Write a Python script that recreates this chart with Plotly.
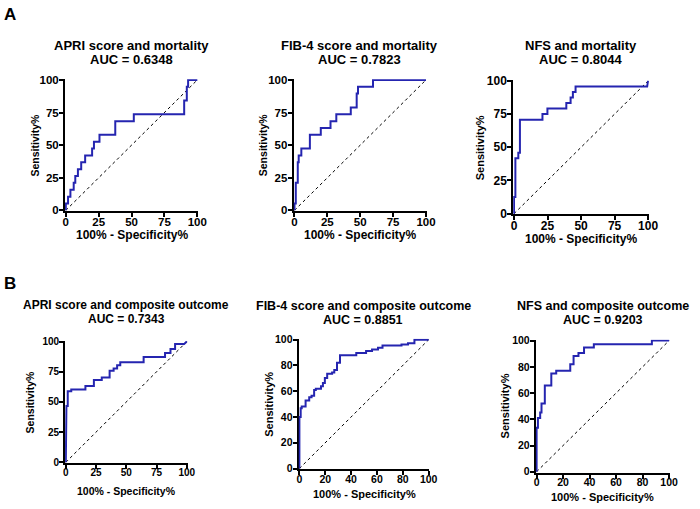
import plotly.graph_objects as go

# ---------------- data (ROC step vertices: 100% - specificity, sensitivity) ----------------
apri_mort_x = [0, 0, 1.7, 1.7, 3.5, 3.5, 6, 6, 7.2, 7.2, 9.2, 9.2, 11.7, 11.7, 14.7, 14.7, 20, 20,
               21.4, 21.4, 25.6, 25.6, 37.6, 37.6, 51.7, 51.7, 90, 90, 92, 92, 93, 93, 100]
apri_mort_y = [0, 5.3, 5.3, 10.5, 10.5, 15.8, 15.8, 21.1, 21.1, 26.3, 26.3, 31.6, 31.6, 36.8, 36.8, 42.1, 42.1, 47.4,
               47.4, 52.6, 52.6, 57.9, 57.9, 68.4, 68.4, 73.7, 73.7, 84.2, 84.2, 94.7, 94.7, 100, 100]

fib4_mort_x = [0, 0, 1, 1, 2.5, 2.5, 3.2, 3.2, 5.2, 5.2, 11.7, 11.7, 20, 20, 27.4, 27.4, 31.8, 31.8,
               42.8, 42.8, 47.3, 47.3, 48.3, 48.3, 59.7, 59.7, 100]
fib4_mort_y = [0, 5.3, 5.3, 21.1, 21.1, 36.8, 36.8, 42.1, 42.1, 47.4, 47.4, 57.9, 57.9, 63.2, 63.2, 68.4, 68.4, 73.7,
               73.7, 78.9, 78.9, 89.5, 89.5, 94.7, 94.7, 100, 100]

nfs_mort_x = [0, 0, 1, 1, 3.2, 3.2, 4.4, 4.4, 21.2, 21.2, 24.9, 24.9, 39, 39, 42.2, 42.2, 43.9, 43.9,
              45.9, 45.9, 99.3, 100]
nfs_mort_y = [0, 12.5, 12.5, 41.7, 41.7, 45.8, 45.8, 70.8, 70.8, 75, 75, 79.2, 79.2, 83.3, 83.3, 87.5, 87.5, 91.7,
              91.7, 95.8, 95.8, 100]

apri_comp_x = [0, 0, 0.5, 0.5, 1.6, 1.6, 4.5, 4.5, 16.2, 16.2, 23.2, 23.2, 29.7, 29.7, 36.2, 36.2, 39.5, 39.5,
               42.4, 42.4, 45, 45, 64.3, 64.3, 82, 82, 86.5, 86.5, 90.3, 90.3, 97.8, 100]
apri_comp_y = [0, 27.8, 27.8, 46.6, 46.6, 58.8, 58.8, 60.3, 60.3, 63.3, 63.3, 68.2, 68.2, 70.2, 70.2, 75.8, 75.8, 77.8,
               77.8, 80.3, 80.3, 82.8, 82.8, 87.3, 87.3, 90.6, 90.6, 93.8, 93.8, 98, 98, 100]

fib4_comp_x = [0, 0, 1, 1, 1.8, 1.8, 4.8, 4.8, 7.6, 7.6, 9.4, 9.4, 11.4, 11.4, 12.7, 12.7, 16.7, 16.7,
               18.2, 18.2, 19.7, 19.7, 21.5, 21.5, 25.3, 25.3, 27, 27, 29.1, 29.1, 31.4, 31.4, 44, 44,
               51.6, 51.6, 56.2, 56.2, 60.8, 60.8, 64.3, 64.3, 79, 79, 84, 84, 89, 89, 100]
fib4_comp_y = [0, 40, 40, 46.7, 46.7, 48.2, 48.2, 52.8, 52.8, 55.3, 55.3, 56.5, 56.5, 60.9, 60.9, 61.9, 61.9, 63.9,
               63.9, 66.4, 66.4, 70.2, 70.2, 73.5, 73.5, 74.5, 74.5, 76.5, 76.5, 82, 82, 87.9, 87.9, 89.6,
               89.6, 91.2, 91.2, 92.4, 92.4, 93.7, 93.7, 95.5, 95.5, 96.2, 96.2, 97.2, 97.2, 100, 100]

nfs_comp_x = [0, 0, 1, 1, 2.7, 2.7, 3.7, 3.7, 6.2, 6.2, 11.1, 11.1, 14.8, 14.8, 25.4, 25.4, 27.9, 27.9,
              31.6, 31.6, 35.8, 35.8, 43.2, 43.2, 87, 87, 100]
nfs_comp_y = [0, 33.5, 33.5, 41, 41, 45.2, 45.2, 52, 52, 65.8, 65.8, 75, 75, 77, 77, 81.9, 81.9, 88.3,
              88.3, 90.6, 90.6, 94.8, 94.8, 97.3, 97.3, 100, 100]

titles = ["APRI score and mortality", "FIB-4 score and mortality", "NFS and mortality",
          "APRI score and composite outcome", "FIB-4 score and composite outcome", "NFS and composite outcome"]
auc_values = ["0.6348", "0.7823", "0.8044", "0.7343", "0.8851", "0.9203"]
ref_line = [0, 100]
ticks_25 = [0, 25, 50, 75, 100]
ticks_20 = [0, 20, 40, 60, 80, 100]

curves = [(apri_mort_x, apri_mort_y), (fib4_mort_x, fib4_mort_y), (nfs_mort_x, nfs_mort_y),
          (apri_comp_x, apri_comp_y), (fib4_comp_x, fib4_comp_y), (nfs_comp_x, nfs_comp_y)]
tick_sets = [ticks_25, ticks_25, ticks_25, ticks_25, ticks_20, ticks_20]

# ---------------- layout geometry (pixels) ----------------
W, H = 700, 509
# (x at 0, x at 100, y at 100, y at 0)
boxes = [(64, 198, 75.7, 209.3), (297, 431, 75.7, 209.3), (520.7, 657.3, 76.7, 212.7),
         (64, 187.3, 343.7, 467.3), (302, 433.7, 341.7, 473.7), (543.7, 678.7, 342.7, 477)]
title_pos = [(131, 40.5, 54.5), (363, 40.5, 54.5), (588.5, 40.5, 54.5),
             (125.8, 306.5, 320.5), (367, 307, 321.5), (611, 307, 321.5)]
ytitle_x = [33, 265, 486, 27, 270.7, 511.7]
xtitle_y = [235, 235, 239, 497, 500, 503]
title_size = [13, 13, 13, 12, 12.5, 12.5]
tick_size = [11.5, 11.5, 12, 10, 10.5, 10.5]
xtitle_size = [12, 12, 12, 10.5, 11, 11]
ytitle_size = [10.5, 10.5, 11, 10.5, 11, 11]

PAD = 0.6
FONT = "Liberation Sans, Arial, sans-serif"
BLUE = "#2525b0"

fig = go.Figure()
annotations = []
layout = {}


def px(x):
    return x / W


def py(y):
    return 1 - y / H


for i, ((cx, cy), ticks) in enumerate(zip(curves, tick_sets)):
    n = "" if i == 0 else str(i + 1)
    x0, x1, ytop, ybot = boxes[i]
    ux = (x1 - x0) / 100.0
    uy = (ybot - ytop) / 100.0
    xd = [px(x0 - PAD * ux), px(x1 + PAD * ux)]
    yd = [py(ybot + PAD * uy), py(ytop - PAD * uy)]
    axis_common = dict(range=[-PAD, 100 + PAD], showline=True, linecolor="black", linewidth=2,
                       ticks="outside", ticklen=4, tickwidth=2, tickcolor="black",
                       showgrid=False, zeroline=False, layer="below traces",
                       tickfont=dict(family=FONT, size=tick_size[i], color="black", weight="bold"))
    layout["xaxis" + n] = dict(domain=xd, anchor="y" + n, tickvals=ticks, ticklabelstandoff=-5, **axis_common)
    layout["yaxis" + n] = dict(domain=yd, anchor="x" + n, tickvals=ticks, ticklabelstandoff=-2, **axis_common)

    fig.add_trace(go.Scatter(x=ref_line, y=ref_line, mode="lines", xaxis="x" + n, yaxis="y" + n,
                             line=dict(color="black", width=1, dash="dot"), showlegend=False,
                             hoverinfo="skip"))
    fig.add_trace(go.Scatter(x=cx, y=cy, mode="lines", xaxis="x" + n, yaxis="y" + n,
                             line=dict(color=BLUE, width=2), showlegend=False))

    tx, ty1, ty2 = title_pos[i]
    annotations.append(dict(text="<b>%s</b>" % titles[i], x=px(tx), y=py(ty1), xref="paper", yref="paper",
                            xanchor="center", yanchor="middle", showarrow=False,
                            font=dict(family=FONT, size=title_size[i], color="black")))
    annotations.append(dict(text="<b>AUC = %s</b>" % auc_values[i], x=px(tx), y=py(ty2), xref="paper",
                            yref="paper", xanchor="center", yanchor="middle", showarrow=False,
                            font=dict(family=FONT, size=title_size[i], color="black")))
    annotations.append(dict(text="<b>Sensitivity%</b>", x=px(ytitle_x[i]), y=py((ytop + ybot) / 2),
                            xref="paper", yref="paper", xanchor="center", yanchor="middle",
                            textangle=-90, showarrow=False,
                            font=dict(family=FONT, size=ytitle_size[i], color="black")))
    annotations.append(dict(text="<b>100% - Specificity%</b>", x=px((x0 + x1) / 2), y=py(xtitle_y[i]),
                            xref="paper", yref="paper", xanchor="center", yanchor="middle",
                            showarrow=False, font=dict(family=FONT, size=xtitle_size[i], color="black")))

annotations.append(dict(text="<b>A</b>", x=px(7), y=py(9), xref="paper", yref="paper", xanchor="center",
                        yanchor="middle", showarrow=False, font=dict(family=FONT, size=17, color="black")))
annotations.append(dict(text="<b>B</b>", x=px(7), y=py(284), xref="paper", yref="paper", xanchor="center",
                        yanchor="middle", showarrow=False, font=dict(family=FONT, size=17, color="black")))

fig.update_layout(width=W, height=H, margin=dict(l=0, r=0, t=0, b=0), plot_bgcolor="white",
                  paper_bgcolor="white", annotations=annotations, **layout)

fig.write_html("out.html", config={"displayModeBar": False},
               post_script="document.body.style.margin='0px';document.body.style.padding='0px';")
